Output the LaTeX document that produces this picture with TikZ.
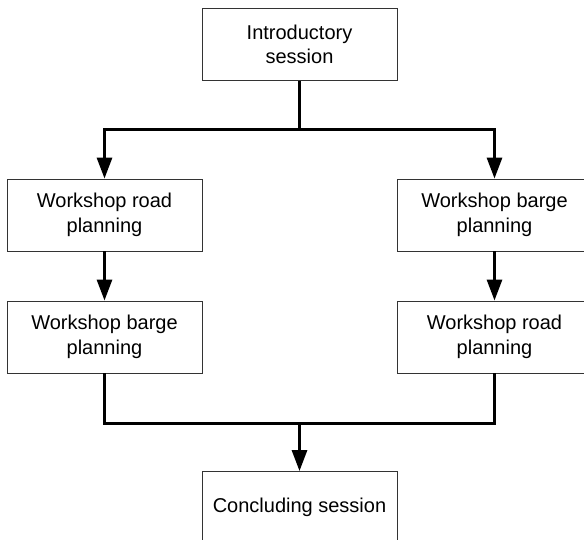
\documentclass[tikz,border=0pt]{standalone}
\usepackage{fontspec}
\setmainfont{Liberation Sans}
\usetikzlibrary{arrows.meta}
\begin{document}
\begin{tikzpicture}[x=1pt,y=-1pt,
  stepbox/.style={draw=black!80, line width=0.9pt, minimum width=195pt,
    minimum height=72pt, align=center, inner sep=0pt,
    font=\fontsize{20}{24.5}\selectfont},
  flow/.style={line width=3pt},
  flowarrow/.style={flow, -{Triangle[length=21pt,width=15pt]}}]
\useasboundingbox (0,0) rectangle (584,540);

% activities
\node[stepbox] (intro)  at (299.5,44.5) {Introductory\\session};
\node[stepbox] (roadL)  at (104.5,215)  {Workshop road\\planning};
\node[stepbox] (bargeL) at (104.5,337)  {Workshop barge\\planning};
\node[stepbox] (bargeR) at (494.5,215)  {Workshop barge\\planning};
\node[stepbox] (roadR)  at (494.5,337)  {Workshop road\\planning};
\node[stepbox] (concl)  at (299.5,507.5) {Concluding session};

% split into two parallel tracks
\coordinate (split) at (299.5,130);
\draw[flow] (intro) -- (split);
\draw[flowarrow] (split) -| (roadL);
\draw[flowarrow] (split) -| (bargeR);

% within each track
\draw[flowarrow] (roadL) -- (bargeL);
\draw[flowarrow] (bargeR) -- (roadR);

% merge of the tracks
\coordinate (merge) at (299.5,423);
\draw[flow] (bargeL) |- (merge);
\draw[flow] (roadR) |- (merge);
\draw[flowarrow] (merge) -- (concl);
\end{tikzpicture}
\end{document}
